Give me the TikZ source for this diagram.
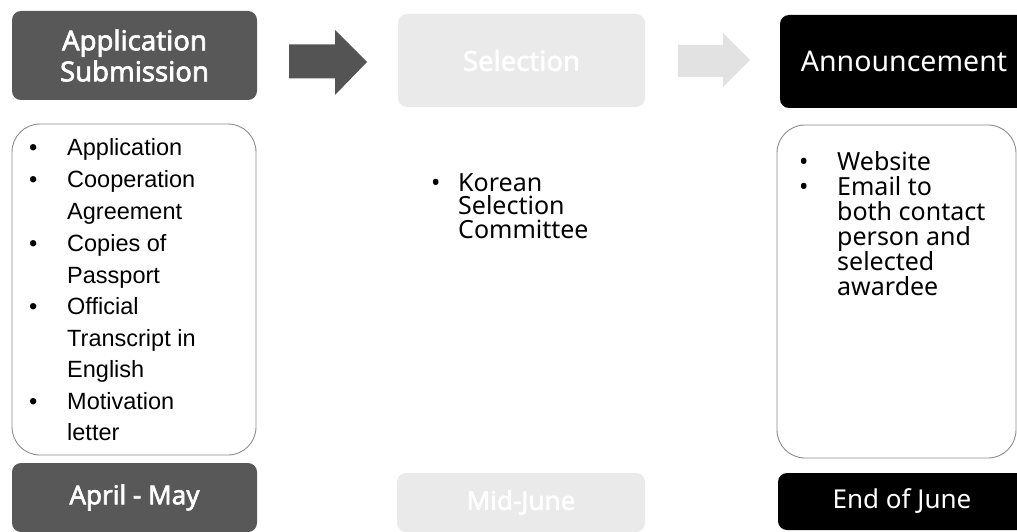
\documentclass[tikz,border=0pt]{standalone}
\usepackage{fontspec}
\setmainfont{Noto Sans}
\newfontfamily\arialf{Liberation Sans}
\newfontfamily\hdbold{Noto Sans}[FakeBold=2.2]
\definecolor{hdrgray}{RGB}{88,88,88}
\definecolor{arrgray}{RGB}{84,84,84}
\definecolor{fadegray}{RGB}{234,234,234}
\definecolor{fadearr}{RGB}{226,226,226}
\definecolor{boxline}{RGB}{140,140,140}
\tikzset{
  hdrbox/.style={rounded corners=9pt, inner sep=0pt, align=center, text=white},
  listbox/.style={draw=boxline, line width=0.9pt, rounded corners=28pt, fill=white},
  leftitem/.style={anchor=base west, inner sep=0pt, font=\arialf\fontsize{23.5}{28}\selectfont},
  rightitem/.style={anchor=base west, inner sep=0pt, font=\fontsize{25}{28}\selectfont}
}
\begin{document}
\begin{tikzpicture}[x=1pt,y=-1pt]
\useasboundingbox (0,0) rectangle (1017,532);

% header boxes
\node[hdrbox, fill=hdrgray, minimum width=245pt, minimum height=89pt,
      font=\hdbold\fontsize{27.5}{31}\selectfont] (app) at (134.5,55.5) {Application\\Submission};
\node[hdrbox, fill=fadegray, minimum width=247pt, minimum height=93pt,
      font=\hdbold\fontsize{27.5}{31}\selectfont] (sel) at (521.5,60.5) {Selection};
\node[hdrbox, fill=black, minimum width=248pt, minimum height=93pt,
      font=\fontsize{28.5}{32}\selectfont] (ann) at (904,61.5) {Announcement};

% bottom boxes
\node[hdrbox, fill=hdrgray, minimum width=245pt, minimum height=69pt,
      font=\hdbold\fontsize{26}{30}\selectfont] (apr) at (134.5,497.5) {April - May};
\node[hdrbox, fill=fadegray, minimum width=248pt, minimum height=59pt,
      font=\hdbold\fontsize{26}{30}\selectfont] (mid) at (521,502.5) {Mid-June};
\node[hdrbox, fill=black, minimum width=248pt, minimum height=57pt,
      font=\fontsize{26}{30}\selectfont] (end) at (902,501.5) {End of June};

% block arrows
\coordinate (a1) at (289,61.5);
\fill[arrgray] (a1) ++(0,-17) -- ++(46,0) -- ++(0,-14.5) -- ++(32,32) -- ++(-32,33) -- ++(0,-16.5) -- ++(-46,0) -- cycle;
\coordinate (a2) at (678,61);
\fill[fadearr] (a2) ++(0,-16) -- ++(45,0) -- ++(0,-12) -- ++(27,27) -- ++(-27,27) -- ++(0,-10) -- ++(-45,0) -- cycle;

% list boxes
\node[listbox, minimum width=244pt, minimum height=331pt] (lbox) at (134,289.5) {};
\node[listbox, minimum width=239pt, minimum height=333pt] (rbox) at (896.5,291.5) {};

% left list
\foreach \yy/\tt in {155/Application,187/Cooperation,219/Agreement,251/Copies of,283/Passport,314/Official,346/Transcript in,377/English,409/Motivation,440/letter}
  \node[leftitem] at (67,\yy) {\tt};
\foreach \yy in {155,187,251,314,409}
  \node[leftitem] at (29,\yy) {\textbullet};

% middle list
\foreach \yy/\tt in {191/Korean,214/Selection,238/Committee}
  \node[rightitem] at (458,\yy) {\tt};
\node[rightitem] at (431,191) {\textbullet};

% right list
\foreach \yy/\tt in {170/Website,195/Email to,220/both contact,245/person and,270/selected,295/awardee}
  \node[rightitem] at (837,\yy) {\tt};
\foreach \yy in {170,195}
  \node[rightitem] at (799,\yy) {\textbullet};
\end{tikzpicture}
\end{document}
